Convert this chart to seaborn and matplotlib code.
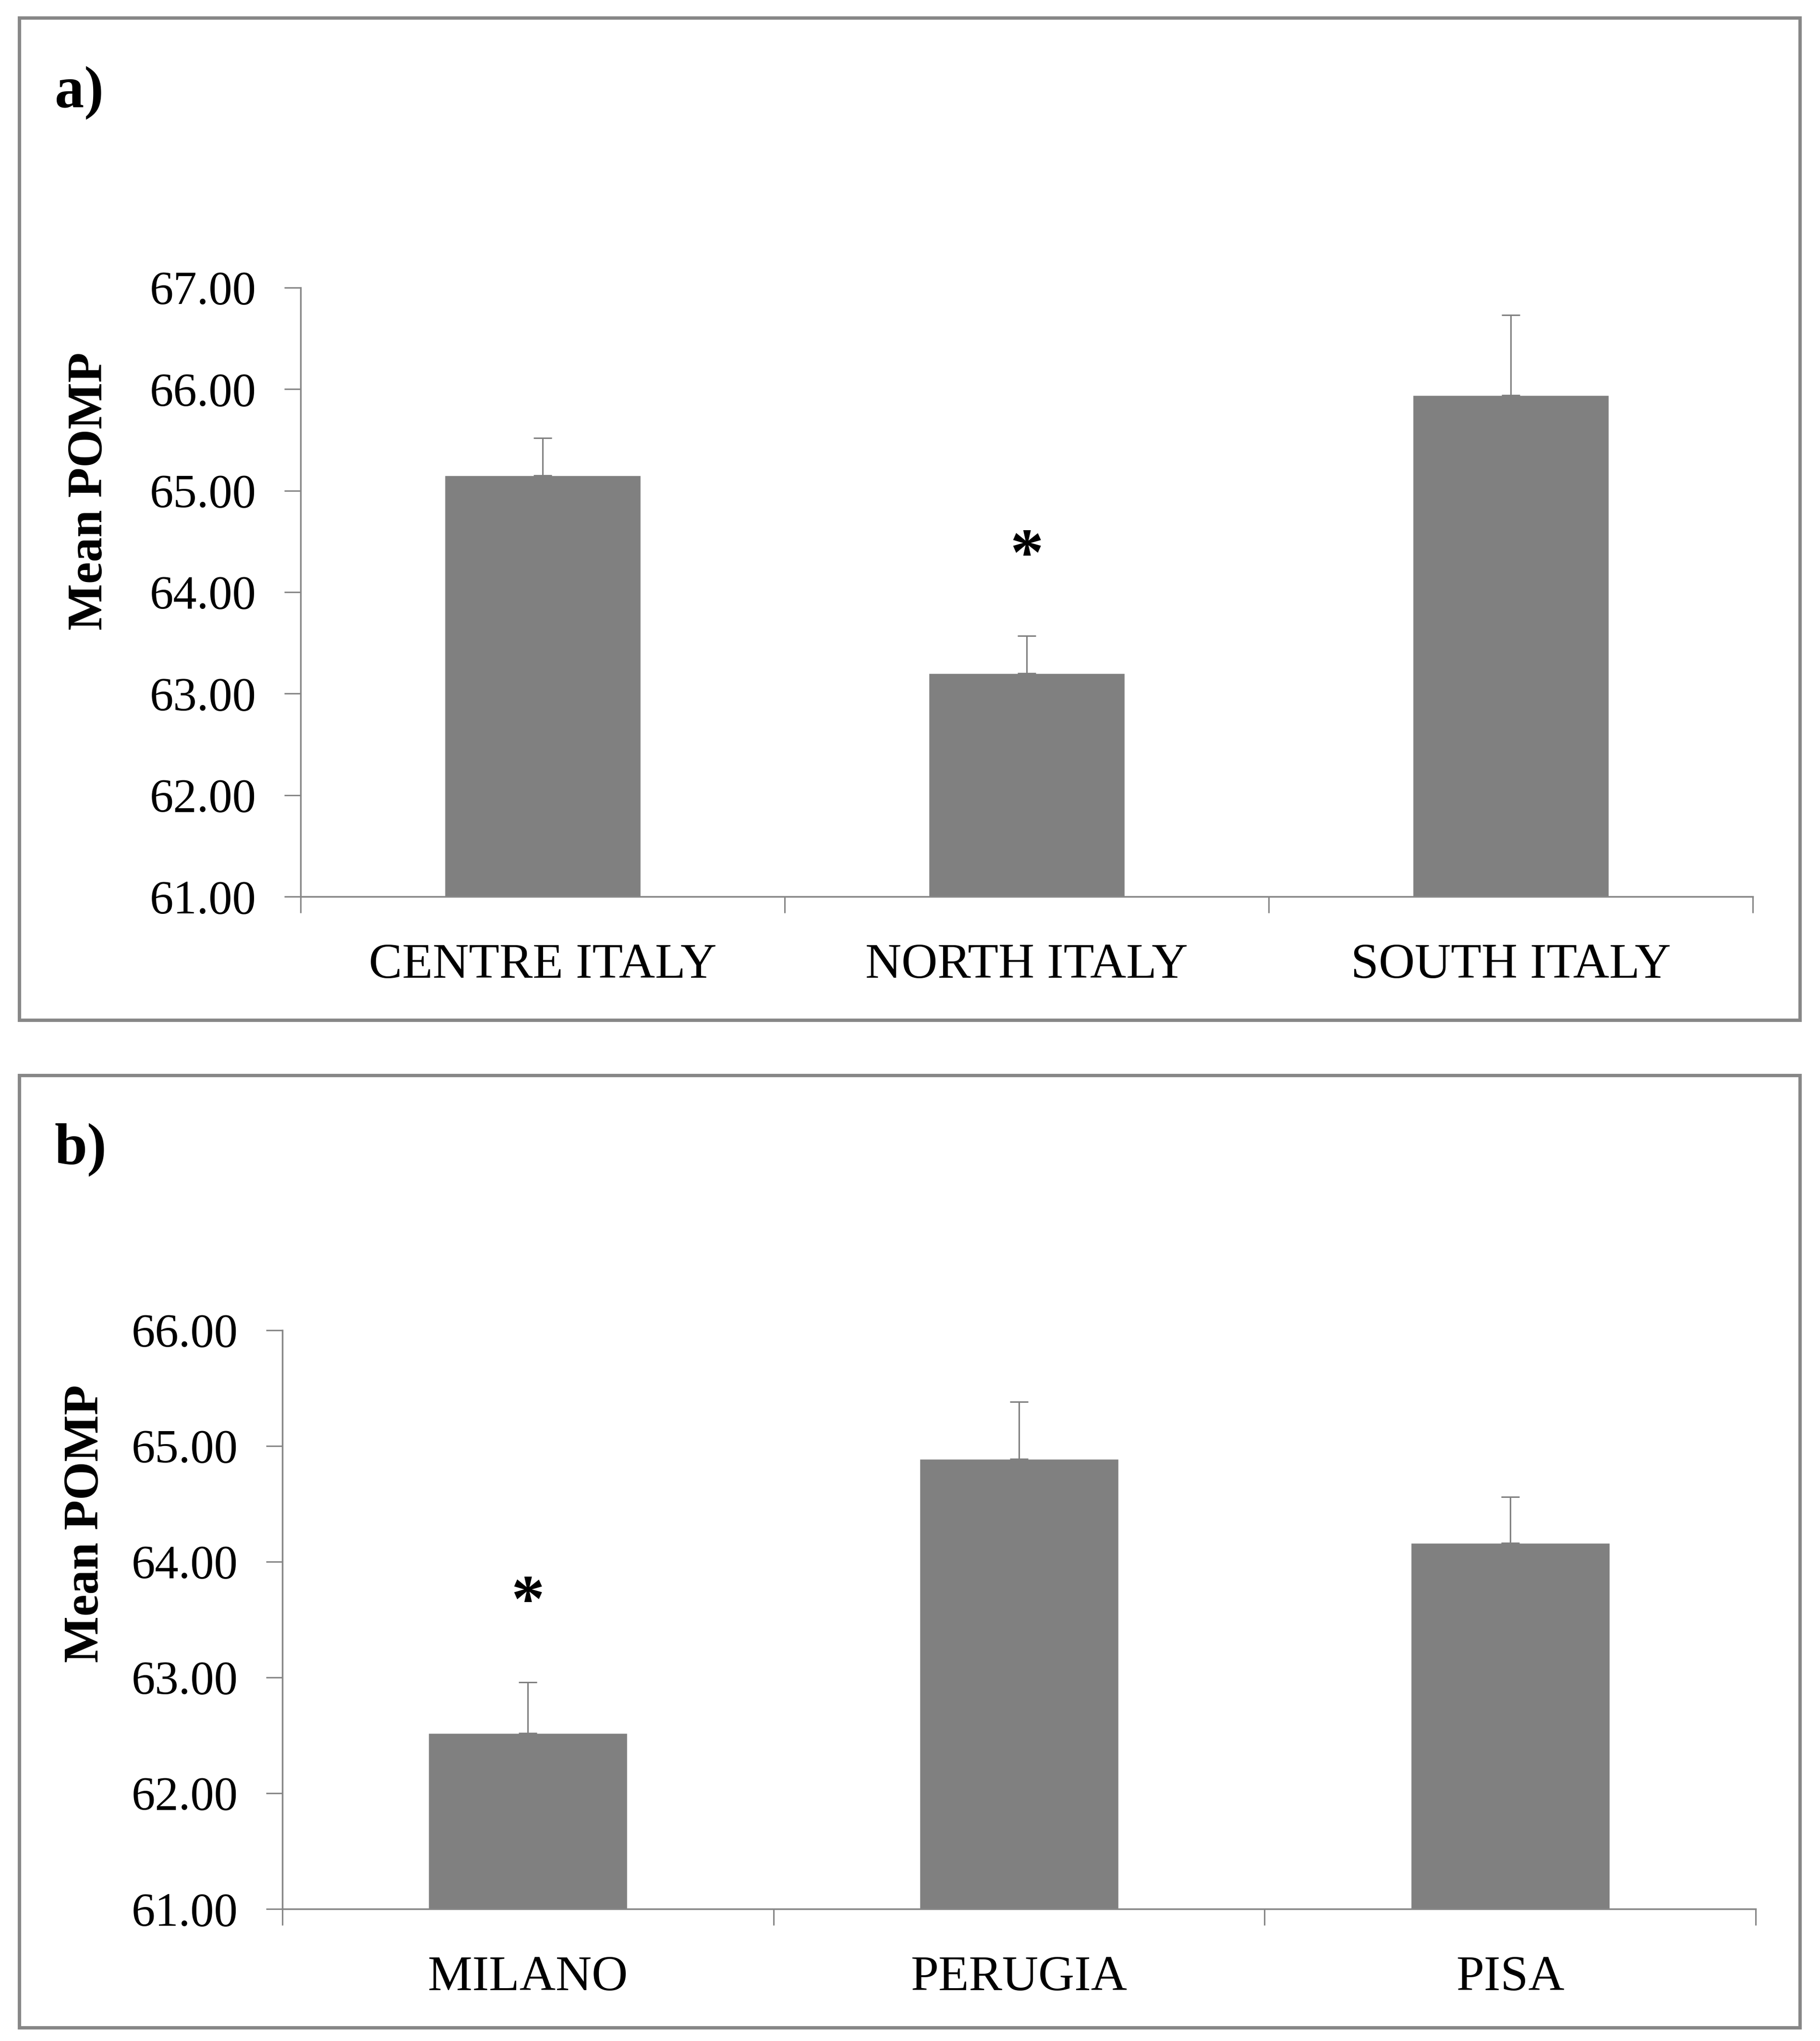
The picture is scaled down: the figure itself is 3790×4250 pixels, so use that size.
import numpy as np
import matplotlib
matplotlib.use("Agg")
import matplotlib.pyplot as plt
from matplotlib.patches import Rectangle
import seaborn as sns

# ---- data ----
regions = ["CENTRE ITALY", "NORTH ITALY", "SOUTH ITALY"]
region_means = [65.15, 63.20, 65.94]
region_err = [0.37, 0.37, 0.79]
region_sig = [False, True, False]

cities = ["MILANO", "PERUGIA", "PISA"]
city_means = [62.52, 64.89, 64.16]
city_err = [0.44, 0.49, 0.40]
city_sig = [True, False, False]

ticks_a = [61, 62, 63, 64, 65, 66, 67]
ticks_b = [61, 62, 63, 64, 65, 66]

sns.set_style("white")
plt.rcParams["font.family"] = ["Liberation Serif", "DejaVu Serif"]
plt.rcParams["text.color"] = "black"
plt.rcParams["axes.labelcolor"] = "black"
plt.rcParams["xtick.labelcolor"] = "black"
plt.rcParams["ytick.labelcolor"] = "black"

W, H = 3791, 4250
fig = plt.figure(figsize=(W / 100, H / 100), dpi=100)

BAR = "#808080"
LINE = "#878787"


def panel(rect, cats, means, errs, sig, ticks, ylab_x, letter, letter_y):
    ax = fig.add_axes(rect)
    sns.barplot(x=cats, y=means, color=BAR, saturation=1, width=0.405,
                errorbar=None, ax=ax, zorder=2)
    pos = np.arange(len(cats))
    ax.errorbar(pos, means, yerr=[np.zeros(len(errs)), errs], fmt="none",
                ecolor=BAR, elinewidth=2.2, capsize=14, capthick=2.2, zorder=3)
    for p, m, e, s in zip(pos, means, errs, sig):
        if s:
            ax.annotate("*", xy=(p, m + e), xytext=(0, 91),
                        textcoords="offset points", ha="center", va="baseline",
                        fontsize=100, fontweight="bold", color="black")
    ax.set_xlim(-0.5, len(cats) - 0.5)
    ax.set_ylim(ticks[0], ticks[-1])
    ax.set_yticks(ticks)
    ax.set_yticklabels([f"{t:.2f}" for t in ticks])
    ax.set_xticks(np.arange(-0.5, len(cats), 1.0), minor=True)
    for side in ["top", "right"]:
        ax.spines[side].set_visible(False)
    for side in ["left", "bottom"]:
        ax.spines[side].set_color(LINE)
        ax.spines[side].set_linewidth(2.5)
    ax.tick_params(axis="y", which="major", direction="out", length=24.5,
                   width=2.2, color=LINE, labelsize=71, pad=42, left=True,
                   labelcolor="black")
    ax.tick_params(axis="x", which="major", length=0, labelsize=75, pad=70,
                   bottom=True, labelcolor="black")
    ax.tick_params(axis="x", which="minor", direction="out", length=24.5,
                   width=2.2, color=LINE, bottom=True)
    ax.set_xlabel("")
    ax.set_ylabel("Mean POMP", fontsize=74, fontweight="bold", color="black")
    ax.yaxis.set_label_coords(ylab_x, 0.666)
    ax.yaxis.label.set_verticalalignment("baseline")
    ax.grid(False)
    fig.text(114 / W, 1 - letter_y / H, letter, fontsize=88,
             fontweight="bold", va="baseline", ha="left", color="black")
    return ax


panel([626 / W, 1 - 1867 / H, 3024 / W, 1268 / H], regions, region_means,
      region_err, region_sig, ticks_a, -0.137, "a)", 223)
panel([588 / W, 1 - 3975 / H, 3068 / W, 1205 / H], cities, city_means,
      city_err, city_sig, ticks_b, -0.125, "b)", 2424)

# panel frames
for (x0, y0, x1, y1) in [(40, 37, 3748, 2124), (40, 2239, 3748, 4222)]:
    fig.add_artist(Rectangle((x0 / W, 1 - y1 / H), (x1 - x0) / W, (y1 - y0) / H,
                             transform=fig.transFigure, fill=False,
                             linewidth=5, edgecolor=LINE))

fig.savefig("out.png", dpi=100, facecolor="white")
